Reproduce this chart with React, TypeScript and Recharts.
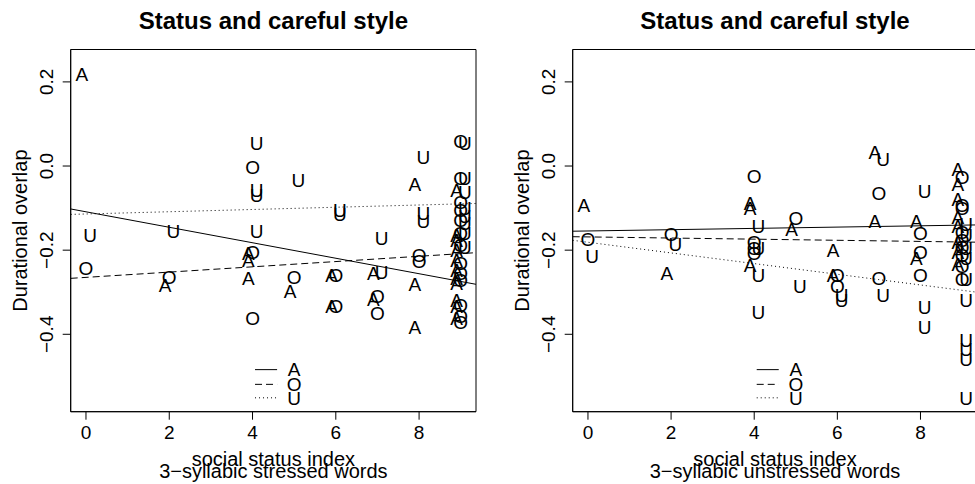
import React from "react";
import { ScatterChart, Scatter, XAxis, YAxis, ReferenceLine, ReferenceDot, ReferenceArea } from "recharts";

type Pt = [number, number];

// social status index (0..9) vs durational overlap, one list per vowel letter
const STATUS_TICKS = [0, 2, 4, 6, 8];
const OVERLAP_TICKS = [-0.4, -0.2, 0, 0.2];
const VOWELS = ["A", "O", "U"] as const;
type Vowel = (typeof VOWELS)[number];

const stressedA: Pt[] = [
  [0, 0.218], [2, -0.283], [4, -0.207], [4, -0.223], [4, -0.267], [5, -0.298],
  [6, -0.259], [6, -0.334], [7, -0.255], [7, -0.317], [8, -0.043], [8, -0.281],
  [8, -0.382], [9, -0.057], [9, -0.164], [9, -0.176], [9, -0.2], [9, -0.223],
  [9, -0.247], [9, -0.267], [9, -0.279], [9, -0.318], [9, -0.334], [9, -0.362],
];
const stressedO: Pt[] = [
  [0, -0.243], [2, -0.263], [4, -0.002], [4, -0.205], [4, -0.362], [5, -0.263],
  [6, -0.259], [6, -0.334], [7, -0.31], [7, -0.35], [8, -0.211], [8, -0.227],
  [9, 0.058], [9, -0.029], [9, -0.085], [9, -0.105], [9, -0.128], [9, -0.16],
  [9, -0.188], [9, -0.231], [9, -0.255], [9, -0.271], [9, -0.33], [9, -0.358], [9, -0.37],
];
const stressedU: Pt[] = [
  [0, -0.164], [2, -0.156], [4, 0.054], [4, -0.057], [4, -0.069], [4, -0.156],
  [5, -0.033], [6, -0.105], [6, -0.115], [7, -0.172], [7, -0.253], [8, 0.022],
  [8, -0.112], [8, -0.132], [9, 0.055], [9, -0.03], [9, -0.061], [9, -0.1],
  [9, -0.12], [9, -0.135], [9, -0.16], [9, -0.192],
];

const unstressedA: Pt[] = [
  [0, -0.093], [2, -0.254], [4, -0.089], [4, -0.1], [4, -0.235], [5, -0.15],
  [6, -0.2], [6, -0.259], [7, 0.033], [7, -0.132], [8, -0.13], [8, -0.219],
  [9, -0.007], [9, -0.043], [9, -0.078], [9, -0.122], [9, -0.142], [9, -0.181],
  [9, -0.205], [9, -0.233],
];
const unstressedO: Pt[] = [
  [0, -0.175], [2, -0.163], [4, -0.023], [4, -0.181], [4, -0.196], [4, -0.207],
  [5, -0.125], [6, -0.26], [6, -0.286], [7, -0.064], [7, -0.267], [8, -0.16],
  [8, -0.205], [8, -0.26], [9, -0.027], [9, -0.094], [9, -0.1], [9, -0.158],
  [9, -0.177], [9, -0.193], [9, -0.213], [9, -0.237], [9, -0.268],
];
const unstressedU: Pt[] = [
  [0, -0.215], [2, -0.185], [4, -0.142], [4, -0.196], [4, -0.259], [4, -0.348],
  [5, -0.285], [6, -0.308], [6, -0.32], [7, 0.017], [7, -0.308], [8, -0.059],
  [8, -0.336], [8, -0.383], [9, -0.138], [9, -0.165], [9, -0.195], [9, -0.22],
  [9, -0.268], [9, -0.32], [9, -0.415], [9, -0.435], [9, -0.458], [9, -0.553],
];

// fitted lines: [intercept, slope]
const stressedFit: Record<Vowel, Pt> = { A: [-0.1088, -0.0184], O: [-0.2647, 0.00627], U: [-0.114, 0.00267] };
const unstressedFit: Record<Vowel, Pt> = { A: [-0.1544, 0.00154], O: [-0.1685, -0.00134], U: [-0.1812, -0.01269] };

const X_DOMAIN: [number, number] = [-0.367, 9.367];
const Y_DOMAIN: [number, number] = [-0.584, 0.277];
const NUDGE: Record<Vowel, number> = { A: -0.1, O: 0, U: 0.1 };
const DASH: Record<Vowel, string | undefined> = { A: undefined, O: "7 4", U: "1 3" };
const LEGEND_LINE_X: [number, number] = [4.06, 4.59];
const LEGEND_TEXT_X = 5;
const LEGEND_ROWS_Y = [-0.484, -0.519, -0.551];

const FONT = "'Liberation Sans', Arial, Helvetica, sans-serif";

const letterShape = (letter: string) => (props: any) => (
  <text x={props.cx} y={props.cy} dy="0.36em" textAnchor="middle" fontSize={19} fontFamily={FONT} fill="#000">
    {letter}
  </text>
);

const XTick = (props: any) => (
  <text x={props.x} y={props.y} dy={19} textAnchor="middle" fontSize={19} fontFamily={FONT} fill="#000">
    {props.payload.value}
  </text>
);

const YTick = (props: any) => {
  const x = props.x - 9.5;
  const label = Number(props.payload.value).toFixed(1).replace("-", "\u2212");
  return (
    <text x={x} y={props.y} transform={`rotate(-90 ${x} ${props.y})`} textAnchor="middle" fontSize={19} fontFamily={FONT} fill="#000">
      {label}
    </text>
  );
};

interface PanelProps {
  left: number;
  width: number;
  yAxisWidth: number;
  marginRight: number;
  plotLeft: number;
  plotRight: number;
  subtitle: string;
  points: Record<Vowel, Pt[]>;
  fits: Record<Vowel, Pt>;
}

function Panel({ left, width, yAxisWidth, marginRight, plotLeft, plotRight, subtitle, points, fits }: PanelProps) {
  const cx = (plotLeft + plotRight) / 2 - left;
  return (
    <div style={{ position: "absolute", left, top: 0, width, height: 484 }}>
      <ScatterChart width={width} height={484} margin={{ top: 49.5, right: marginRight, bottom: 0, left: 0 }}>
        <XAxis type="number" dataKey="x" domain={X_DOMAIN} ticks={STATUS_TICKS} interval={0} allowDataOverflow
          height={72.3} tickSize={8} tickMargin={0} stroke="#000" tick={<XTick />} />
        <YAxis type="number" dataKey="y" domain={Y_DOMAIN} ticks={OVERLAP_TICKS} interval={0} allowDataOverflow
          width={yAxisWidth} tickSize={8} tickMargin={0} stroke="#000" tick={<YTick />} />
        {/* plot frame */}
        <ReferenceArea x1={X_DOMAIN[0]} x2={X_DOMAIN[1]} y1={Y_DOMAIN[0]} y2={Y_DOMAIN[1]} ifOverflow="visible"
          fill="none" fillOpacity={0} stroke="#000" strokeWidth={1} strokeOpacity={1} />
        {VOWELS.map((v) => (
          <Scatter key={v} name={v} isAnimationActive={false}
            data={points[v].map(([s, o]) => ({ x: s + NUDGE[v], y: o }))}
            shape={letterShape(v)} />
        ))}
        {VOWELS.map((v) => (
          <ReferenceLine key={"fit" + v} ifOverflow="visible" stroke="#000" strokeWidth={1} strokeDasharray={DASH[v]}
            segment={[
              { x: X_DOMAIN[0], y: fits[v][0] + fits[v][1] * X_DOMAIN[0] },
              { x: X_DOMAIN[1], y: fits[v][0] + fits[v][1] * X_DOMAIN[1] },
            ]} />
        ))}
        {VOWELS.map((v, i) => (
          <ReferenceLine key={"leg" + v} ifOverflow="visible" stroke="#000" strokeWidth={1} strokeDasharray={DASH[v]}
            segment={[{ x: LEGEND_LINE_X[0], y: LEGEND_ROWS_Y[i] }, { x: LEGEND_LINE_X[1], y: LEGEND_ROWS_Y[i] }]} />
        ))}
        {VOWELS.map((v, i) => (
          <ReferenceDot key={"legt" + v} x={LEGEND_TEXT_X} y={LEGEND_ROWS_Y[i]} ifOverflow="visible" shape={letterShape(v)} />
        ))}
      </ScatterChart>
      <svg width={width} height={484} style={{ position: "absolute", left: 0, top: 0, pointerEvents: "none" }}>
        <text x={cx} y={29.3} textAnchor="middle" fontSize={24} fontWeight="bold" fontFamily={FONT}>
          Status and careful style
        </text>
        <text x={cx} y={466} textAnchor="middle" fontSize={20} fontFamily={FONT}>social status index</text>
        <text x={cx} y={478} textAnchor="middle" fontSize={20} fontFamily={FONT}>{subtitle}</text>
        <text x={plotLeft - left - 44} y={230.6} transform={`rotate(-90 ${plotLeft - left - 44} 230.6)`}
          textAnchor="middle" fontSize={20} fontFamily={FONT}>
          Durational overlap
        </text>
      </svg>
    </div>
  );
}

export default function App() {
  return (
    <div style={{ position: "absolute", left: 0, top: 0, width: 975, height: 484, overflow: "hidden", background: "#fff" }}>
      <Panel left={0} width={490} yAxisWidth={70.7} marginRight={14} plotLeft={70.7} plotRight={476}
        subtitle={"3\u2212syllabic stressed words"}
        points={{ A: stressedA, O: stressedO, U: stressedU }} fits={stressedFit} />
      <Panel left={490} width={495} yAxisWidth={82.7} marginRight={7.7} plotLeft={572.7} plotRight={977.3}
        subtitle={"3\u2212syllabic unstressed words"}
        points={{ A: unstressedA, O: unstressedO, U: unstressedU }} fits={unstressedFit} />
    </div>
  );
}
